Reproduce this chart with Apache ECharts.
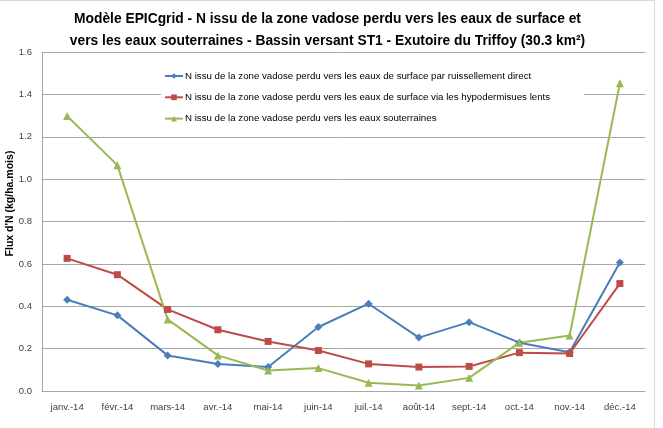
<!DOCTYPE html>
<html>
  <head>
    <meta charset="utf-8" />
    <title>EPICgrid</title>
    <script src="https://cdn.jsdelivr.net/npm/echarts@6/dist/echarts.min.js"></script>
    <style>
      body { margin: 0; background: #fff; }
      #main { width: 655px; height: 428px; }
      #frame { position: absolute; left: -1px; top: 0; width: 654px; height: 440px; border: 1px solid #d9d9d9; pointer-events: none; }
    </style>
  </head>
  <body>
    <div id="main"></div>
    <div id="frame"></div>
    <script type="text/javascript">
// mois
let months = ['janv.-14', 'févr.-14', 'mars-14', 'avr.-14', 'mai-14', 'juin-14', 'juil.-14', 'août-14', 'sept.-14', 'oct.-14', 'nov.-14', 'déc.-14'];
// ruissellement direct
let ruissellement = [0.431, 0.357, 0.168, 0.127, 0.113, 0.302, 0.412, 0.252, 0.325, 0.228, 0.183, 0.606];
// hypodermiques lents
let hypodermique = [0.626, 0.549, 0.385, 0.289, 0.234, 0.191, 0.128, 0.113, 0.116, 0.181, 0.177, 0.507];
// eaux souterraines
let souterraines = [1.298, 1.066, 0.338, 0.168, 0.097, 0.108, 0.039, 0.026, 0.062, 0.228, 0.262, 1.452];

let names = [
  'N issu de la zone vadose perdu vers les eaux de surface par ruissellement direct',
  'N issu de la zone vadose perdu vers les eaux de surface via les hypodermisues lents',
  'N issu de la zone vadose perdu vers les eaux souterraines'
];

var myChart = echarts.init(document.getElementById('main'));
var font = 'Liberation Sans';
option = {
  animation: false,
  title: {
    text: 'Modèle EPICgrid - N issu de la zone vadose perdu vers les eaux de surface et\nvers les eaux souterraines - Bassin versant ST1 - Exutoire du Triffoy (30.3 km²)',
    left: 'center',
    top: 3,
    textStyle: { fontFamily: font, fontSize: 13.8, fontWeight: 'bold', color: '#000', lineHeight: 22 }
  },
  legend: {
    orient: 'vertical',
    left: 161,
    top: 68,
    itemGap: 11.3,
    itemWidth: 18,
    itemHeight: 7,
    backgroundColor: '#fff',
    padding: [3, 34, 3, 3],
    textStyle: { fontFamily: font, fontSize: 9.7, color: '#000', padding: [0, 0, 0, -3] },
    data: names
  },
  grid: { left: 42, right: 10, top: 52, bottom: 37, outerBoundsMode: 'none' },
  xAxis: {
    type: 'category',
    data: months,
    boundaryGap: true,
    axisLine: { lineStyle: { color: '#a6a6a6' } },
    axisTick: { show: false },
    axisLabel: { fontFamily: font, fontSize: 9.5, color: '#404040', margin: 11, interval: 0 }
  },
  yAxis: {
    type: 'value',
    min: 0,
    max: 1.6,
    interval: 0.2,
    name: "Flux d'N (kg/ha.mois)",
    nameLocation: 'middle',
    nameGap: 26,
    nameMoveOverlap: false,
    nameTextStyle: { fontFamily: font, fontSize: 10.5, fontWeight: 'bold', color: '#000', padding: [0, 0, 0, 36] },
    axisLine: { show: true, lineStyle: { color: '#a6a6a6' } },
    axisTick: { show: false },
    splitLine: { lineStyle: { color: '#a6a6a6' } },
    axisLabel: { fontFamily: font, fontSize: 9.5, color: '#404040', margin: 10, formatter: function (v) { return v.toFixed(1); } }
  },
  series: [
    {
      name: names[0],
      type: 'line',
      data: ruissellement,
      symbol: 'diamond',
      symbolSize: 8,
      color: '#4a7ebb',
      lineStyle: { width: 2 }
    },
    {
      name: names[1],
      type: 'line',
      data: hypodermique,
      symbol: 'rect',
      symbolSize: 7,
      color: '#be4b48',
      lineStyle: { width: 2 }
    },
    {
      name: names[2],
      type: 'line',
      data: souterraines,
      symbol: 'triangle',
      symbolSize: 8,
      color: '#98b954',
      lineStyle: { width: 2 }
    }
  ]
};
myChart.setOption(option);
    </script>
  </body>
</html>
